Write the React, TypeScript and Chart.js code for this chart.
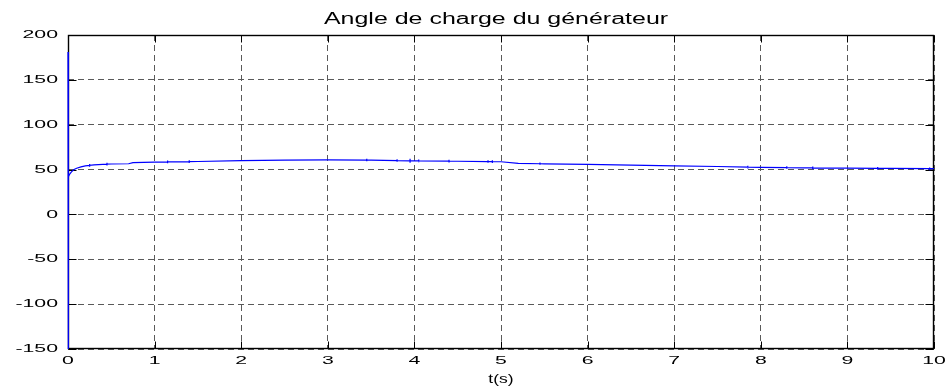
import React, { useEffect, useRef } from 'react';
import { Chart, registerables } from 'chart.js';

Chart.register(...registerables);

const TITLE = 'Angle de charge du générateur';
const X_LABEL = 't(s)';
const X_TICKS = [0, 1, 2, 3, 4, 5, 6, 7, 8, 9, 10];
const Y_TICKS = [-150, -100, -50, 0, 50, 100, 150, 200];

// time (s) — repeated instants are the small vertical glitches of the trace
const TIME = [
  0, 0, 0.008, 0.02, 0.04, 0.07, 0.1, 0.15, 0.2,
  0.25, 0.25, 0.25, 0.25, 0.3,
  0.45, 0.45, 0.45, 0.45, 0.5, 0.7, 0.75, 1.0,
  1.15, 1.15, 1.15, 1.15,
  1.4, 1.4, 1.4, 1.4, 1.5, 2.0, 2.5, 3.0,
  3.45, 3.45, 3.45, 3.45, 3.5,
  3.8, 3.8, 3.8, 3.8,
  3.95, 3.95, 3.95, 3.95, 4.0,
  4.05, 4.05, 4.05, 4.05,
  4.4, 4.4, 4.4, 4.4, 4.5,
  4.85, 4.85, 4.85, 4.85,
  4.9, 4.9, 4.9, 4.9, 5.0, 5.2,
  5.45, 5.45, 5.45, 5.45, 5.5, 6.0, 6.5, 7.0, 7.5,
  7.85, 7.85, 7.85, 7.85, 8.0,
  8.3, 8.3, 8.3, 8.3, 8.5,
  8.6, 8.6, 8.6, 8.6, 9.0,
  9.35, 9.35, 9.35, 9.35, 9.5,
  9.95, 9.95, 9.95, 9.95, 10,
];

// load angle (deg)
const ANGLE = [
  181, -150, 42, 45, 47.5, 50, 51.5, 53, 54.2,
  54.7, 56.2, 53.2, 54.7, 55.3,
  56, 57.5, 54.5, 56, 56.2, 56.5, 57.8, 58.3,
  58.5, 60, 57, 58.5,
  58.8, 60.3, 57.3, 58.8, 59, 60, 60.5, 60.8,
  60.6, 62.2, 59.2, 60.6, 60.5,
  60, 61.5, 58.5, 60,
  59.8, 62, 57.5, 59.8, 59.7,
  59.6, 61.2, 58.2, 59.6,
  59.4, 61, 58, 59.4, 59.3,
  58.9, 60.5, 57.5, 58.9,
  58.8, 60.3, 57.3, 58.8, 58.7, 57,
  56.5, 58, 55, 56.5, 56.4, 55.8, 55, 54.2, 53.4,
  52.7, 54.2, 51.2, 52.7, 52.5,
  52.2, 53.7, 50.7, 52.2, 52,
  51.9, 53.4, 50.4, 51.9, 51.6,
  51.4, 52.8, 49.8, 51.4, 51.3,
  51, 52.3, 49.3, 51, 51,
];

const FONT = '"Liberation Sans", Arial, Helvetica, sans-serif';

function drawStretched(
  ctx: CanvasRenderingContext2D,
  text: string,
  x: number,
  y: number,
  size: number,
  sx: number,
  align: CanvasTextAlign,
  baseline: CanvasTextBaseline
) {
  ctx.save();
  ctx.translate(x, y);
  ctx.scale(sx, 1);
  ctx.font = `${size}px ${FONT}`;
  ctx.textAlign = align;
  ctx.textBaseline = baseline;
  ctx.fillStyle = '#000';
  ctx.fillText(text, 0, 0);
  ctx.restore();
}

const framePlugin = {
  id: 'matlabFrame',
  beforeDatasetsDraw(chart: any) {
    const { ctx, chartArea: a, scales } = chart;
    const x = scales.x;
    const y = scales.y;
    ctx.save();
    ctx.setLineDash([]);
    ctx.strokeStyle = '#000';
    ctx.lineWidth = 1;
    const L = Math.round(a.left) + 0.5;
    const R = Math.round(a.right) - 0.5;
    const T = Math.round(a.top) + 0.5;
    const B = Math.round(a.bottom) - 0.5;
    ctx.beginPath();
    X_TICKS.forEach((v) => {
      const px = Math.round(x.getPixelForValue(v)) + 0.5;
      ctx.moveTo(px, B);
      ctx.lineTo(px, B - 7);
      ctx.moveTo(px, T);
      ctx.lineTo(px, T + 7);
    });
    Y_TICKS.forEach((v) => {
      const py = Math.round(y.getPixelForValue(v)) + 0.5;
      ctx.moveTo(L, py);
      ctx.lineTo(L + 8, py);
      ctx.moveTo(R, py);
      ctx.lineTo(R - 8, py);
    });
    ctx.stroke();
    ctx.lineWidth = 1.4;
    ctx.strokeRect(L, T, R - L, B - T);
    ctx.restore();
  },
  afterDraw(chart: any) {
    const { ctx, chartArea: a, scales } = chart;
    const x = scales.x;
    const y = scales.y;
    Y_TICKS.forEach((v) => {
      drawStretched(ctx, String(v), a.left - 10, y.getPixelForValue(v), 11.5, 1.85, 'right', 'middle');
    });
    X_TICKS.forEach((v) => {
      drawStretched(ctx, String(v), x.getPixelForValue(v), a.bottom + 12, 11.5, 1.85, 'center', 'middle');
    });
    drawStretched(ctx, X_LABEL, (a.left + a.right) / 2, a.bottom + 34, 13, 1.35, 'center', 'alphabetic');
    drawStretched(ctx, TITLE, (a.left + a.right) / 2 - 5, 24, 16, 1.56, 'center', 'alphabetic');
  },
};

export default function App() {
  const ref = useRef<HTMLCanvasElement>(null);

  useEffect(() => {
    const canvas = ref.current;
    if (!canvas) return;
    const data = TIME.map((t, i) => ({ x: t, y: ANGLE[i] }));
    const gridCommon = {
      color: '#5a5a5a',
      lineWidth: 1,
      drawTicks: false,
    };
    const chart = new Chart(canvas, {
      type: 'line',
      data: {
        datasets: [
          {
            data,
            borderColor: '#0000ff',
            borderWidth: 1.2,
            pointRadius: 0,
            tension: 0,
            fill: false,
            clip: false as any,
          },
        ],
      },
      options: {
        responsive: false,
        animation: false,
        devicePixelRatio: 1,
        parsing: false as any,
        layout: { padding: { left: 68, right: 16, top: 35, bottom: 42 } },
        plugins: {
          legend: { display: false },
          title: { display: false },
          tooltip: { enabled: false },
        },
        scales: {
          x: {
            type: 'linear',
            min: 0,
            max: 10,
            afterBuildTicks: (s: any) => {
              s.ticks = X_TICKS.map((v) => ({ value: v }));
            },
            ticks: { display: false },
            grid: gridCommon,
            border: { display: false, dash: [6, 4] },
          },
          y: {
            type: 'linear',
            min: -150,
            max: 200,
            afterBuildTicks: (s: any) => {
              s.ticks = Y_TICKS.map((v) => ({ value: v }));
            },
            ticks: { display: false },
            grid: gridCommon,
            border: { display: false, dash: [6, 4] },
          },
        },
      },
      plugins: [framePlugin],
    });
    return () => chart.destroy();
  }, []);

  return (
    <div
      style={{
        position: 'fixed',
        left: 0,
        top: 0,
        width: 950,
        height: 391,
        background: '#fff',
      }}
    >
      <canvas ref={ref} width={950} height={391} style={{ display: 'block', width: 950, height: 391 }} />
    </div>
  );
}
